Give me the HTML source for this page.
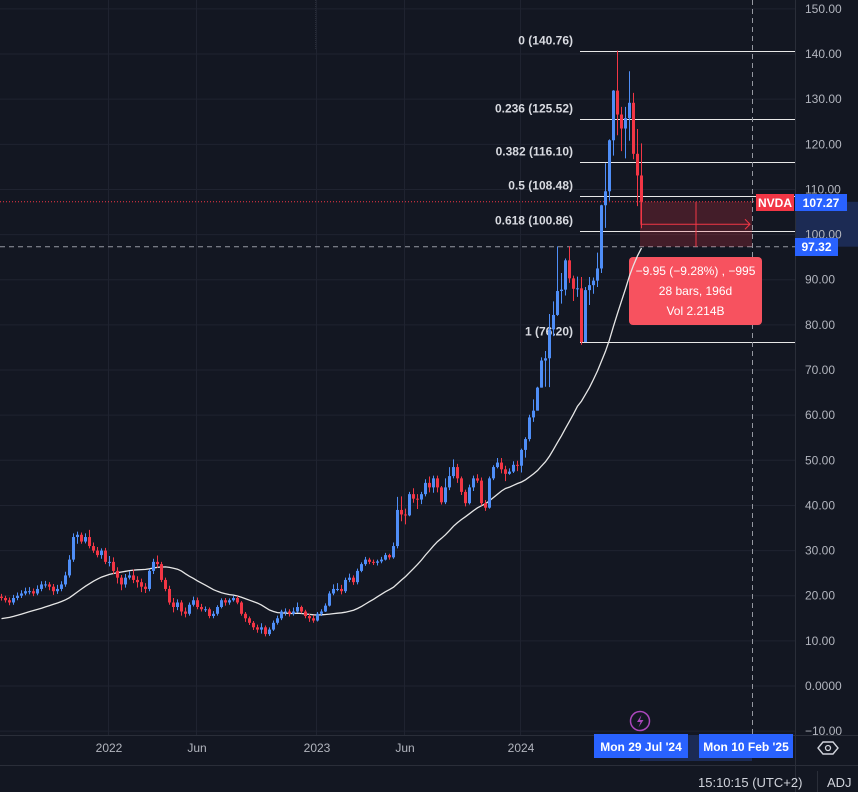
<!DOCTYPE html>
<html><head><meta charset="utf-8">
<style>
html,body{margin:0;padding:0;background:#131722;}
svg{display:block;font-family:"Liberation Sans",sans-serif;}
</style></head>
<body>
<svg id="chart" width="858" height="792" viewBox="0 0 858 792" xmlns="http://www.w3.org/2000/svg">
<rect x="0" y="0" width="858" height="792" fill="#131722"/>
<g id="grid"></g>
<g id="fib"></g>
<g id="measure"></g>
<g id="ma"></g>
<g id="candles"></g>
<g id="axis"></g>
<g id="taxis"></g>
</svg>
<script>
const priorCloses=[13,13.3,13.5,13.2,13,13.8,14.5,15,14.8,13.5,13.2,13.5,13.3,13.6,14.8,15.5,15,14.5,15.2,15.5,15,16,17.5,18.5,19.8];
const closes=[19.5,19,18.5,19.5,20,20.5,21,21,20.5,21.5,
22.5,22.5,22,21,21.5,22.5,24.5,28,33,33.5,
32,33,31,30,29,30,27.5,27.5,25.5,24,
22.5,24,24.5,23.5,23,22,21.5,25.5,27.5,27,
23.5,21.5,18.5,17.5,18.5,16.5,16,18,19,17.5,
17,17,15.5,16,17.5,19,18.5,19,19.5,18.5,
16,15,14,13,12.5,13,11.5,12.5,14,15,
16.5,16.5,16,16.5,17.5,16.5,15.5,15,14.5,16,
16.5,17.8,20.5,21.5,21.5,21,23.5,24,23,25.5,
27,28,27.5,27.3,27.6,28,29,28.5,31,39,
38,37.8,42.5,41.5,41.3,42.5,45,44,46,44,
40.7,44,46.5,48.5,46,43,40.5,44,46,45.5,
40.5,39.5,46,48.5,49.5,48,47,47.5,49,48.8,
52.3,54.7,59.5,61,66.1,72.1,72.6,79,82.2,87.5,
87.8,94.3,90.3,88,88.1,76.2,87.7,88.8,89.8,92.5,
106.5,109.6,120.9,131.9,126.6,123.5,125.8,129.2,117.9,113.1,107.27];
const highs=[20.4,20,19.6,20.2,20.7,21.2,21.8,21.9,21.6,22.3,
23.2,23.3,23,22.6,22.4,23.2,25.3,29,33.8,34.2,
34,33.8,34.6,31.8,30.8,30.5,30.6,28.8,28.5,26.3,
24.6,24.8,25.4,25.8,24.3,23.8,22.8,25.9,28.2,28.9,
27.5,24,22.2,19.5,19.2,19,17.4,18.5,19.8,19.6,
18.2,17.6,17.4,16.6,17.9,19.4,19.5,19.4,20,19.9,
18.8,16.4,15.4,14.4,13.6,13.9,13.4,13,14.5,15.6,
16.9,17.2,17,17.4,18.5,17.8,16.9,16,15.7,16.4,
17,18.3,21,22.5,22.8,22.4,24,24.9,24.5,26,
27.4,28.6,28.4,28,28,28.6,29.5,29.3,31.8,41.9,
42,39.3,43,43.8,42.5,43,45.8,46.4,46.6,46.6,
44.3,46,48.5,50.2,49.2,46.4,43.5,44.6,46.6,46.9,
46.2,41.2,46.4,48.9,50.5,50.5,48.8,48.2,49.8,49.9,
52.6,55.1,60.1,63.5,66.3,72.8,74.2,82.4,85.2,97.4,
91.5,94.7,97.4,90.9,90.7,90.6,88.4,90.6,90.5,96,
106.6,115.8,121.1,132,140.76,128.3,128.3,136.2,131.4,123.4,120.2];
const lows=[18.9,18.5,17.9,18,19,19.5,20.1,20.3,19.9,20.1,
21,21.8,21.2,20.2,20.4,21,22,24,27.5,31.5,
31.5,31.6,30.5,29.5,28.5,28.2,27,26.5,24.8,22.7,
21.2,21.8,23.6,22.8,21.8,20.8,20.6,21,24.8,26.2,
23,21,18,16.3,16.8,15.6,15.2,15.6,17.6,17,
16.5,16.4,15,15,15.6,17.2,17.8,18,18.7,18.1,
15.6,14.2,13.5,12.4,11.8,11.6,11,11.1,12.2,13.6,
14.6,15.6,15.4,15.6,16.2,16.1,15,14.2,14,14.3,
15.5,16.4,17.6,20.1,21,20.3,20.6,23,22.4,22.5,
25.2,26.6,27,26.8,26.7,27.2,27.8,28,28.2,30.5,
36.5,35.8,37.6,40.6,39.2,40.3,42,42.9,42.8,42.9,
40.2,40.3,43.4,46,45,42.3,39.8,40.2,43.2,45,
40,38.8,39.3,45.6,48.2,47.1,45.4,46.8,47.2,47.6,
47.3,50.6,54.2,58.5,61,66.1,66.3,66.2,77.5,82,
84.7,86.5,89.3,85.3,86.2,75.6,80.5,84.4,86.9,88.4,
91.5,101.5,107.5,117.5,122,118.5,116.9,120.8,116.7,106.3,101.4];
const maPeriod=28;
const fibRatios=["0","0.236","0.382","0.5","0.618","1"];
const fibPrices=[140.76,125.52,116.10,108.48,100.86,76.20];
const priceTicks=[150,140,130,120,110,100,90,80,70,60,50,40,30,20,10,0,-10];
const priceTickLabels=["150.00","140.00","130.00","120.00","110.00","100.00","90.00","80.00","70.00","60.00","50.00","40.00","30.00","20.00","10.00","0.0000","\u221210.00"];
const timeLabels=["2022","Jun","2023","Jun","2024"];
const timeLabelBars=[27,49,79,101,130];
const lastPrice=107.27;
const measureEndPrice=97.32;
const measureStartBar=160, measureBars=28;

const NS="http://www.w3.org/2000/svg";
const xOf=i=>4*i;
const yOf=v=>686-v*4.514;
function mk(tag,attrs,parent){const e=document.createElementNS(NS,tag);for(const k in attrs)e.setAttribute(k,attrs[k]);parent.appendChild(e);return e;}
const G=id=>document.getElementById(id);

const grid=G('grid');
priceTicks.forEach(v=>{const l=mk('line',{x1:0,x2:795,y1:yOf(v),y2:yOf(v),stroke:'#1f2330','stroke-width':1},grid);

});
timeLabelBars.forEach(b=>{const l=mk('line',{x1:xOf(b)+0.5,x2:xOf(b)+0.5,y1:0,y2:735,stroke:'#1f2330','stroke-width':1},grid);

});
const tl=mk('line',{x1:315.5,x2:315.5,y1:0,y2:50,stroke:'#2a2e39','stroke-width':1,'stroke-dasharray':'1 1'},grid);



const fib=G('fib');
fibPrices.forEach((p,k)=>{const y=Math.round(yOf(p))+0.5;
const l=mk('line',{x1:580,x2:795,y1:y,y2:y,stroke:'#e8e8e8','stroke-width':1},fib);


const t=mk('text',{x:573,y:y-7,'text-anchor':'end',fill:'#d8dae0','font-size':'12','font-weight':'bold'},fib);
t.textContent=fibRatios[k]+' ('+p.toFixed(2)+')';

});

const ms=G('measure');
const mx0=xOf(measureStartBar), mx1=xOf(measureStartBar+measureBars);
const yTop=yOf(lastPrice), yBot=yOf(measureEndPrice);
const lp=mk('line',{x1:0,x2:795,y1:yTop,y2:yTop,stroke:'#f23645','stroke-width':1,'stroke-dasharray':'1 2'},ms);


const hl=mk('line',{x1:0,x2:795,y1:yBot,y2:yBot,stroke:'#9598a1','stroke-width':1,'stroke-dasharray':'5 4'},ms);


const vl=mk('line',{x1:mx1+0.5,x2:mx1+0.5,y1:0,y2:735,stroke:'#9598a1','stroke-width':1,'stroke-dasharray':'5 4'},ms);


const rr=mk('rect',{x:mx0,y:yTop,width:mx1-mx0,height:yBot-yTop,fill:'rgba(242,54,69,0.22)'},ms);


const ym=(yTop+yBot)/2;
const mv=mk('line',{x1:(mx0+mx1)/2,x2:(mx0+mx1)/2,y1:yTop,y2:yBot,stroke:'#f23645','stroke-width':1},ms);


const mh=mk('path',{d:`M${mx0+1},${yTop} V${ym} H${mx1-2} M${mx1-7},${ym-5} L${mx1-2},${ym} L${mx1-7},${ym+5}`,stroke:'#f23645','stroke-width':1,fill:'none'},ms);



const all=priorCloses.concat(closes);const off=priorCloses.length;
let pts=[];
for(let i=0;i<closes.length;i++){let s=0,n=0;for(let k=0;k<maPeriod;k++){const idx=off+i-k;if(idx>=0){s+=all[idx];n++;}}pts.push(xOf(i)+1.5+','+yOf(s/n).toFixed(1));}
const mal=mk('polyline',{points:pts.join(' '),stroke:'#e6e6e6','stroke-width':1.3,fill:'none'},G('ma'));



const cg=G('candles');
for(let i=0;i<closes.length;i++){
 const o=i===0?priorCloses[priorCloses.length-1]:closes[i-1], c=closes[i];
 const col=c>=o?'#4f8ef7':'#f23645';
 const x=xOf(i);
 const w=mk('line',{x1:x+1.5,x2:x+1.5,y1:yOf(highs[i]),y2:yOf(lows[i]),stroke:col,'stroke-width':1},cg);
 
 
 const yt=yOf(Math.max(o,c)), yb=yOf(Math.min(o,c));
 const b=mk('rect',{x:x,y:yt,width:3,height:Math.max(1,yb-yt),fill:col},cg);
 
 
}

const ib=mk('rect',{x:629,y:257,width:133,height:68,rx:4,fill:'#f7525f'},ms);


['\u22129.95 (\u22129.28%) , \u2212995','28 bars, 196d','Vol 2.214B'].forEach((s,k)=>{
 const t=mk('text',{x:695.5,y:275+k*20,'text-anchor':'middle',fill:'#ffffff','font-size':'12'},ms);t.textContent=s;
 
 });

const ax=G('axis');
const sep=mk('line',{x1:795.5,x2:795.5,y1:0,y2:792,stroke:'#2a2e39'},ax);


const band=mk('rect',{x:796,y:yTop,width:62,height:yBot-yTop,fill:'#1c2b54'},ax);


priceTicks.forEach((v,k)=>{const t=mk('text',{x:805,y:yOf(v)+4,fill:'#b2b5be','font-size':'12'},ax);t.textContent=priceTickLabels[k];
 
 });
const nb=mk('rect',{x:756,y:194,width:38,height:17,fill:'#f23645'},ax);


const nt=mk('text',{x:775,y:207,'text-anchor':'middle',fill:'#fff','font-size':'12','font-weight':'bold'},ax);nt.textContent='NVDA';


const pb=mk('rect',{x:795,y:194,width:52,height:17,fill:'#2962ff'},ax);


const pt=mk('text',{x:821,y:207,'text-anchor':'middle',fill:'#fff','font-size':'12','font-weight':'bold'},ax);pt.textContent=lastPrice.toFixed(2);


const eb=mk('rect',{x:795,y:238,width:43,height:18,fill:'#2962ff'},ax);


const et=mk('text',{x:816.5,y:251,'text-anchor':'middle',fill:'#fff','font-size':'12','font-weight':'bold'},ax);et.textContent=measureEndPrice.toFixed(2);



const ta=G('taxis');
const tb=mk('line',{x1:0,x2:858,y1:735.5,y2:735.5,stroke:'#2a2e39'},ta);


const tb2=mk('line',{x1:0,x2:858,y1:765.5,y2:765.5,stroke:'#2a2e39'},ta);


timeLabels.forEach((s,k)=>{const t=mk('text',{x:xOf(timeLabelBars[k])+1,y:752,'text-anchor':'middle',fill:'#b2b5be','font-size':'12'},ta);t.textContent=s;
 
 });
const tband=mk('rect',{x:mx0,y:735,width:mx1-mx0,height:26,fill:'#1c2b54'},ta);


[[594,'Mon 29 Jul \'24'],[699,'Mon 10 Feb \'25']].forEach(([x,s])=>{
 const r=mk('rect',{x:x,y:734,width:94,height:24,fill:'#2962ff'},ta);
 
 
 const t=mk('text',{x:x+47,y:751,'text-anchor':'middle',fill:'#fff','font-size':'12','font-weight':'bold'},ta);t.textContent=s;
 
 });
const lc=mk('circle',{cx:640,cy:721,r:9.5,fill:'none',stroke:'#ab47bc','stroke-width':1.5},ta);


const lt=mk('path',{d:'M641.5,715 L637,722 L640.5,722 L638.5,727.5 L643.5,720 L640,720 Z',fill:'#ab47bc'},ta);


const hx=mk('path',{d:'M823,742 L833,742 L838,748 L833,754 L823,754 L818,748 Z',fill:'none',stroke:'#d1d4dc','stroke-width':1.4},ta);


const hc=mk('circle',{cx:828,cy:748,r:2.5,fill:'none',stroke:'#d1d4dc','stroke-width':1.3},ta);


const clk=mk('text',{x:698,y:787,fill:'#d1d4dc','font-size':'13'},ta);clk.textContent='15:10:15 (UTC+2)';


const s2=mk('line',{x1:817.5,x2:817.5,y1:771,y2:792,stroke:'#2a2e39'},ta);


const adj=mk('text',{x:827,y:787,fill:'#d1d4dc','font-size':'13'},ta);adj.textContent='ADJ';


</script>
</body></html>
